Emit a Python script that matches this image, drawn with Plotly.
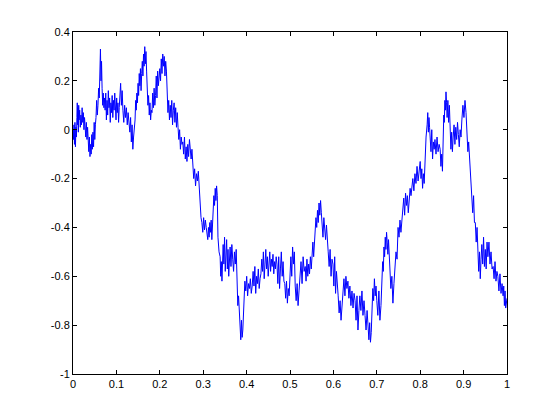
import numpy as np
import plotly.graph_objects as go

# Start position (x, data units) of each traced segment, one per value list below
seg_x0 = [0.000, 0.009, 0.014, 0.028, 0.035, 0.046, 0.053, 0.062, 0.067, 0.074,
          0.108, 0.115, 0.131, 0.143, 0.154, 0.171, 0.182, 0.200, 0.217, 0.224,
          0.242, 0.253, 0.276, 0.293, 0.309, 0.323, 0.334, 0.339, 0.346, 0.362,
          0.378, 0.385, 0.396, 0.415, 0.435, 0.470, 0.488, 0.500, 0.512, 0.523,
          0.535, 0.551, 0.558, 0.574, 0.588, 0.599, 0.611, 0.622, 0.638, 0.650,
          0.661, 0.680, 0.689, 0.700, 0.712, 0.724, 0.730, 0.749, 0.760, 0.783,
          0.800, 0.811, 0.816, 0.823, 0.834, 0.846, 0.853, 0.862, 0.869, 0.876,
          0.896, 0.908, 0.919, 0.933, 0.942, 0.956, 0.968, 0.979, 0.991]
seg_vals = [
    [0.00, -0.04, 0.02, -0.06, 0.03, -0.07, 0.01, -0.03],
    [0.05, 0.11, 0.02, 0.09, -0.01, 0.10],
    [0.04, 0.08, 0.01, 0.06, 0.02, 0.09, 0.03, 0.07, 0.00, 0.05],
    [0.02, -0.03, 0.03, -0.04, 0.01],
    [-0.05, -0.09, -0.03, -0.11, -0.06, -0.10, -0.02, -0.08],
    [-0.01, -0.07, 0.03, -0.04, 0.02],
    [0.05, 0.12, 0.06, 0.10, 0.17, 0.13],
    [0.22, 0.33, 0.20, 0.28],
    [0.17, 0.10, 0.15, 0.09, 0.13],
    [0.08, 0.15, 0.04, 0.12, 0.06, 0.16, 0.09, 0.13, 0.03, 0.11, 0.07, 0.14,
     0.05, 0.12, 0.08, 0.15, 0.10, 0.04, 0.13, 0.07, 0.11, 0.03, 0.09],
    [0.12, 0.19, 0.10, 0.16],
    [0.08, 0.03, 0.10, 0.05, 0.09, 0.02, 0.07, 0.04],
    [-0.01, 0.05, -0.05, 0.02, -0.08, -0.03, 0.01],
    [0.04, 0.12, 0.08, 0.15, 0.11, 0.19, 0.14, 0.23],
    [0.18, 0.25, 0.16, 0.23, 0.28, 0.22, 0.31, 0.26, 0.34, 0.27, 0.32, 0.24],
    [0.19, 0.10, 0.14, 0.06, 0.11, 0.04, 0.08],
    [0.07, 0.15, 0.09, 0.17, 0.10, 0.14, 0.22, 0.13, 0.24, 0.18, 0.21],
    [0.25, 0.20, 0.29, 0.23, 0.31, 0.26, 0.30, 0.22, 0.28, 0.24],
    [0.16, 0.07, 0.12, 0.04],
    [0.10, 0.05, 0.12, 0.02, 0.08, 0.11, 0.03, 0.09, 0.01, 0.07],
    [0.01, -0.04, 0.00, -0.08, -0.03, -0.06],
    [-0.05, -0.10, -0.03, -0.12, -0.07, -0.13, -0.06, -0.11, -0.04, -0.09, -0.12, -0.08],
    [-0.15, -0.20, -0.16, -0.23, -0.18, -0.21, -0.17, -0.22],
    [-0.30, -0.36, -0.38, -0.42, -0.36, -0.41, -0.37, -0.40],
    [-0.43, -0.45, -0.40, -0.44, -0.38, -0.42, -0.37, -0.45, -0.39],
    [-0.33, -0.27, -0.31, -0.24, -0.29, -0.23, -0.27],
    [-0.44, -0.50],
    [-0.52, -0.60, -0.54, -0.62, -0.55],
    [-0.47, -0.55, -0.44, -0.58, -0.50, -0.45, -0.57, -0.49, -0.60, -0.52],
    [-0.48, -0.56, -0.47, -0.53, -0.58, -0.50, -0.55, -0.49],
    [-0.64, -0.72, -0.68, -0.76],
    [-0.80, -0.86, -0.78, -0.85, -0.82, -0.72, -0.67],
    [-0.62, -0.66, -0.60, -0.68, -0.63, -0.65, -0.61, -0.67, -0.64],
    [-0.58, -0.64, -0.56, -0.67, -0.60, -0.63, -0.57, -0.65, -0.61, -0.59],
    [-0.53, -0.58, -0.50, -0.61, -0.55, -0.49, -0.57, -0.52, -0.60, -0.54,
     -0.50, -0.58, -0.53, -0.56, -0.51, -0.59, -0.54, -0.57, -0.52],
    [-0.55, -0.63, -0.52, -0.65, -0.57, -0.50, -0.60, -0.54, -0.62],
    [-0.63, -0.69, -0.62, -0.71, -0.65, -0.68],
    [-0.58, -0.52, -0.60, -0.48, -0.55, -0.50],
    [-0.64, -0.70, -0.63, -0.72, -0.66],
    [-0.60, -0.54, -0.63, -0.52, -0.58],
    [-0.56, -0.62, -0.53, -0.60, -0.55, -0.59, -0.52, -0.57],
    [-0.50, -0.46, -0.52, -0.47],
    [-0.42, -0.36, -0.40, -0.33, -0.38, -0.30, -0.35, -0.29, -0.34],
    [-0.38, -0.44, -0.36, -0.42, -0.45, -0.39, -0.43],
    [-0.50, -0.56, -0.49, -0.60, -0.53],
    [-0.55, -0.64, -0.52, -0.67, -0.58, -0.62],
    [-0.68, -0.75, -0.70, -0.78, -0.72],
    [-0.66, -0.61, -0.68, -0.60, -0.65, -0.62, -0.69],
    [-0.64, -0.72, -0.66, -0.73, -0.67],
    [-0.70, -0.78, -0.68, -0.82, -0.74],
    [-0.68, -0.74, -0.66, -0.76, -0.70, -0.76, -0.82, -0.74],
    [-0.80, -0.86, -0.79, -0.87, -0.83],
    [-0.72, -0.65, -0.70, -0.61, -0.68, -0.64],
    [-0.70, -0.76, -0.66, -0.78, -0.72],
    [-0.60, -0.54, -0.58, -0.48, -0.52, -0.44, -0.49, -0.42],
    [-0.46, -0.51, -0.45, -0.53],
    [-0.58, -0.65, -0.60, -0.71, -0.63, -0.55, -0.50, -0.53],
    [-0.40, -0.44, -0.37, -0.42, -0.38],
    [-0.33, -0.28, -0.35, -0.26, -0.31, -0.27, -0.34, -0.29, -0.24, -0.27, -0.23],
    [-0.20, -0.25, -0.18, -0.22, -0.15, -0.21, -0.17],
    [-0.13, -0.20, -0.16, -0.24, -0.18, -0.22],
    [-0.10, -0.03],
    [0.02, 0.07, -0.01, 0.05, 0.01],
    [-0.03, -0.09, 0.00, -0.12, -0.05, -0.08],
    [-0.04, -0.10, -0.03, -0.09, -0.06],
    [-0.08, -0.15, -0.10, -0.17],
    [-0.01, 0.06, 0.03, 0.12, 0.08, 0.155, 0.11],
    [0.05, 0.12, 0.03, 0.10],
    [-0.02, -0.08, -0.01, -0.09],
    [-0.03, 0.02, -0.06, 0.01, -0.04, 0.03, -0.02, -0.07, 0.00, -0.03],
    [0.04, 0.10, 0.05, 0.12, 0.07],
    [-0.03, -0.09, -0.05, -0.11, -0.18, -0.25],
    [-0.28, -0.34, -0.27, -0.38, -0.38, -0.46, -0.40],
    [-0.48, -0.58, -0.50, -0.61, -0.53],
    [-0.47, -0.55, -0.44, -0.56, -0.49, -0.57, -0.46],
    [-0.52, -0.46, -0.55, -0.50, -0.57],
    [-0.56, -0.61, -0.54, -0.62, -0.58],
    [-0.60, -0.66, -0.59, -0.67, -0.63],
    [-0.68, -0.64, -0.72, -0.66, -0.73, -0.69],
]

x_ticks = [0, 0.1, 0.2, 0.3, 0.4, 0.5, 0.6, 0.7, 0.8, 0.9, 1]
x_labels = ["0", "0.1", "0.2", "0.3", "0.4", "0.5", "0.6", "0.7", "0.8", "0.9", "1"]
y_ticks = [-1, -0.8, -0.6, -0.4, -0.2, 0, 0.2, 0.4]
y_labels = ["-1", "-0.8", "-0.6", "-0.4", "-0.2", "0", "0.2", "0.4"]

ends = seg_x0[1:] + [1.0]
xs, ys = [], []
for a, b, vals in zip(seg_x0, ends, seg_vals):
    k = len(vals)
    for i, v in enumerate(vals):
        xs.append(a + (b - a) * i / k)
        ys.append(v)
xs[-1] = 1.0

fig = go.Figure()
fig.add_trace(go.Scatter(x=xs, y=ys, mode="lines",
                         line=dict(color="#0000FF", width=1), showlegend=False,
                         hoverinfo="skip"))

axis_common = dict(showline=True, linecolor="black", linewidth=1, mirror="ticks",
                   ticks="inside", ticklen=4, tickcolor="black", tickwidth=1,
                   showgrid=False, zeroline=False,
                   tickfont=dict(family="Liberation Sans, Arial, sans-serif", size=11, color="black"))
fig.update_xaxes(range=[0, 1], tickvals=x_ticks, ticktext=x_labels, **axis_common)
fig.update_yaxes(range=[-1, 0.4], tickvals=y_ticks, ticktext=y_labels, **axis_common)
fig.update_layout(width=560, height=420, margin=dict(l=65, r=61, t=24, b=54),
                  paper_bgcolor="white", plot_bgcolor="white")
fig.write_html("out.html")
